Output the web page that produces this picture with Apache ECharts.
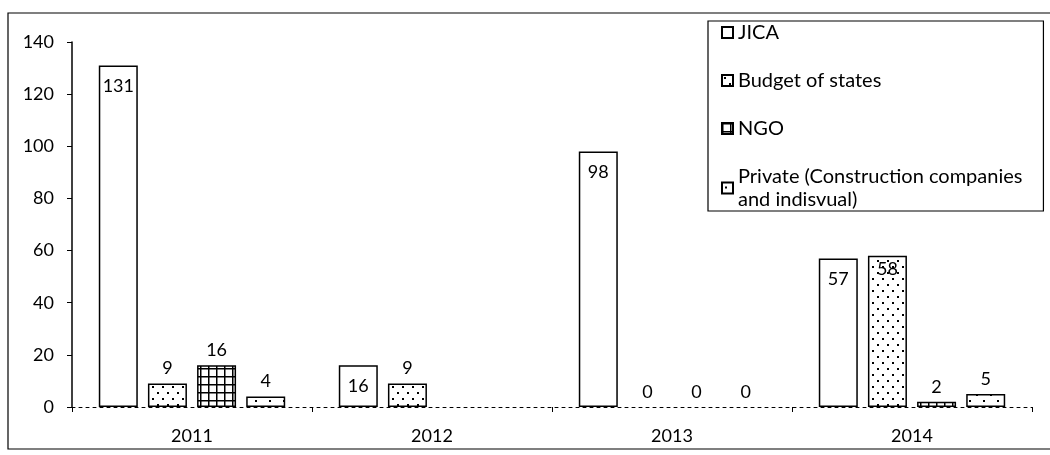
<!DOCTYPE html>
<html><head><meta charset="utf-8">
<script src="https://cdn.jsdelivr.net/npm/echarts@6/dist/echarts.min.js"></script>
<style>html,body{margin:0;padding:0;background:#fff}#c{width:1050px;height:455px}</style>
</head><body><div id="c"></div>
<script>
const categories = ['2011', '2012', '2013', '2014'];
const jica = [131, 16, 98, 57];
const budget = [9, 9, 0, 58];
const ngo = [16, null, 0, 2];
const privateSec = [4, null, 0, 5];
const seriesNames = ['JICA', 'Budget of states', 'NGO', 'Private (Construction companies\nand indisvual)'];
const yMin = 0, yMax = 140, yStep = 20;

function pattern(w, h, draw) {
  const c = document.createElement('canvas');
  c.width = w; c.height = h;
  const g = c.getContext('2d');
  g.fillStyle = '#fff'; g.fillRect(0, 0, w, h);
  g.fillStyle = '#000';
  draw(g);
  return { image: c, repeat: 'repeat' };
}
const dotsBudget = pattern(10, 12, g => { g.fillRect(2, 2, 2, 2); g.fillRect(7, 8, 2, 2); });
const gridNgo = pattern(8, 8, g => { g.fillRect(0, 0, 8, 1.5); g.fillRect(0, 0, 1.5, 8); });
const dotsPrivate = pattern(14, 12, g => { g.fillRect(3, 4, 2, 2); g.fillRect(10, 10, 2, 2); });

const FONT = 'Lato, "Open Sans", sans-serif';
const styleData = (arr, tallInside) => arr.map(v => {
  if (v === 0) return { value: v, itemStyle: { borderWidth: 0 } };
  if (tallInside && v !== null && v >= 50) return { value: v, label: { position: 'insideTop', distance: 4 } };
  return v;
});
const baseBar = (name, data, fill, labelPos) => ({
  name, type: 'bar', data,
  barWidth: 39, barGap: '26%',
  itemStyle: { color: fill, borderColor: '#000', borderWidth: 1.5 },
  label: { show: true, position: labelPos, distance: labelPos === 'insideTop' ? 12 : 6,
           color: '#000', fontSize: 18, fontFamily: FONT },
  emphasis: { disabled: true }
});

const chart = echarts.init(document.getElementById('c'), null, { renderer: 'canvas' });

chart.setOption({
  animation: false,
  backgroundColor: '#fff',
  textStyle: { fontFamily: FONT },
  grid: { left: 72, right: 18, top: 42, bottom: 48 },
  graphic: [{
    type: 'rect', silent: true,
    shape: { x: 8, y: 13, width: 1080, height: 436 },
    style: { fill: 'none', stroke: '#000', lineWidth: 1.2 }
  }],
  legend: {
    orient: 'vertical', left: 708, top: 21,
    backgroundColor: '#fff',
    borderColor: '#000', borderWidth: 1.2,
    padding: [0, 21, 0, 13],
    itemGap: 25, itemWidth: 11, itemHeight: 11,
    icon: 'rect',
    textStyle: { fontSize: 20, color: '#000', fontFamily: FONT, lineHeight: 23 },
    data: seriesNames
  },
  xAxis: {
    type: 'category', data: categories,
    axisLine: { lineStyle: { color: '#000', width: 1, type: [3, 4] } },
    axisTick: { show: true, length: 5, lineStyle: { color: '#000' } },
    axisLabel: { color: '#000', fontSize: 18, margin: 20, fontFamily: FONT }
  },
  yAxis: {
    type: 'value', min: yMin, max: yMax, interval: yStep,
    axisLine: { show: true, lineStyle: { color: '#000', width: 1.5 } },
    axisTick: { show: true, length: 5, lineStyle: { color: '#000' } },
    splitLine: { show: false },
    axisLabel: { color: '#000', fontSize: 18, margin: 18, fontFamily: FONT }
  },
  series: [
    baseBar(seriesNames[0], styleData(jica, false), '#fff', 'insideTop'),
    baseBar(seriesNames[1], styleData(budget, true), dotsBudget, 'top'),
    baseBar(seriesNames[2], styleData(ngo, false), gridNgo, 'top'),
    baseBar(seriesNames[3], styleData(privateSec, false), dotsPrivate, 'top')
  ]
});
</script></body></html>
